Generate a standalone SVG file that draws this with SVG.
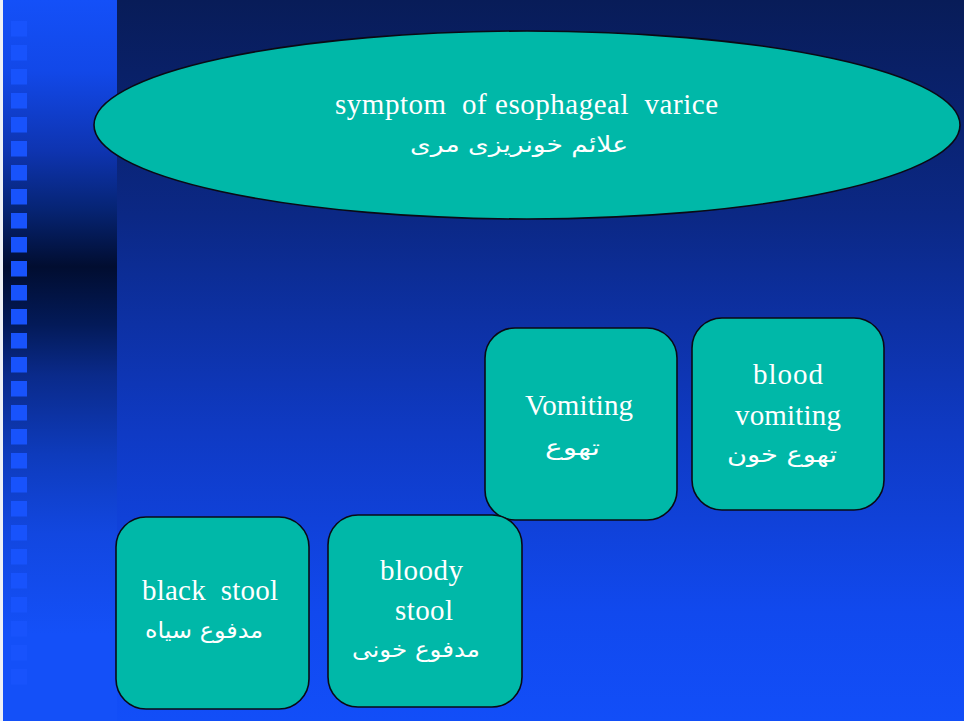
<svg xmlns="http://www.w3.org/2000/svg" width="964" height="721" viewBox="0 0 964 721">
  <defs>
    <linearGradient id="mainBg" x1="0" y1="0" x2="0" y2="1">
      <stop offset="0" stop-color="#081c58"/>
      <stop offset="0.3" stop-color="#0b2885"/>
      <stop offset="0.6" stop-color="#0f3ac4"/>
      <stop offset="0.85" stop-color="#1149ee"/>
      <stop offset="1" stop-color="#124ef8"/>
    </linearGradient>
    <linearGradient id="sideBg" x1="0" y1="0" x2="0" y2="1">
      <stop offset="0" stop-color="#1450f8"/>
      <stop offset="0.1" stop-color="#1248e8"/>
      <stop offset="0.21" stop-color="#0e34b0"/>
      <stop offset="0.29" stop-color="#062474"/>
      <stop offset="0.37" stop-color="#010d30"/>
      <stop offset="0.45" stop-color="#031a58"/>
      <stop offset="0.52" stop-color="#0a2a8a"/>
      <stop offset="0.63" stop-color="#0e3bbc"/>
      <stop offset="0.74" stop-color="#1247e0"/>
      <stop offset="0.88" stop-color="#1450f8"/>
      <stop offset="1" stop-color="#1450f8"/>
    </linearGradient>
    <pattern id="squares" x="11" y="21" width="16" height="24" patternUnits="userSpaceOnUse">
      <rect x="0" y="0" width="16" height="15.5" fill="#1853fc"/>
    </pattern>
  </defs>
  <style>
    .node { fill: #00b8a8; stroke: #0a0a14; stroke-width: 1.6; }
    .en { font-family: "Liberation Serif", "Times New Roman", serif; font-size: 29px; fill: #ffffff; text-anchor: middle; white-space: pre; }
    .fa { font-family: "DejaVu Sans", "Noto Sans", sans-serif; font-size: 22px; fill: #ffffff; text-anchor: middle; }
  </style>

  <!-- backdrop -->
  <rect x="0" y="0" width="964" height="721" fill="url(#mainBg)"/>
  <rect x="0" y="0" width="117" height="721" fill="url(#sideBg)"/>
  <rect x="11" y="21" width="16" height="664" fill="url(#squares)"/>
  <rect x="0" y="0" width="3" height="721" fill="#eef0f6"/>

  <!-- title -->
  <g id="title">
    <ellipse class="node" cx="527" cy="125" rx="433" ry="94"/>
    <text class="en" x="526.5" y="114" xml:space="preserve" textLength="383" lengthAdjust="spacing">symptom  of esophageal  varice</text>
    <text class="fa" x="519" y="152" textLength="218" lengthAdjust="spacingAndGlyphs">علائم خونریزی مری</text>
  </g>

  <g id="vomiting">
    <rect class="node" x="485" y="328" width="192" height="192" rx="30"/>
    <text class="en" x="579" y="415" textLength="108" lengthAdjust="spacing">Vomiting</text>
    <text class="fa" x="572.5" y="455" textLength="55" lengthAdjust="spacingAndGlyphs">تهوع</text>
  </g>

  <g id="blood-vomiting">
    <rect class="node" x="692" y="318" width="192" height="192" rx="30"/>
    <text class="en" x="788" y="384" textLength="70" lengthAdjust="spacing">blood</text>
    <text class="en" x="788" y="425" textLength="106" lengthAdjust="spacing">vomiting</text>
    <text class="fa" x="782" y="462" textLength="110" lengthAdjust="spacingAndGlyphs">تهوع خون</text>
  </g>

  <g id="black-stool">
    <rect class="node" x="116" y="517" width="193" height="192" rx="30"/>
    <text class="en" x="210" y="600" xml:space="preserve" textLength="136" lengthAdjust="spacing">black  stool</text>
    <text class="fa" x="204" y="638" textLength="118" lengthAdjust="spacingAndGlyphs">مدفوع سیاه</text>
  </g>

  <g id="bloody-stool">
    <rect class="node" x="328" y="515" width="194" height="192" rx="30"/>
    <text class="en" x="421.5" y="580" textLength="83" lengthAdjust="spacing">bloody</text>
    <text class="en" x="424" y="620" textLength="58" lengthAdjust="spacing">stool</text>
    <text class="fa" x="416" y="657" textLength="128" lengthAdjust="spacingAndGlyphs">مدفوع خونی</text>
  </g>
</svg>
